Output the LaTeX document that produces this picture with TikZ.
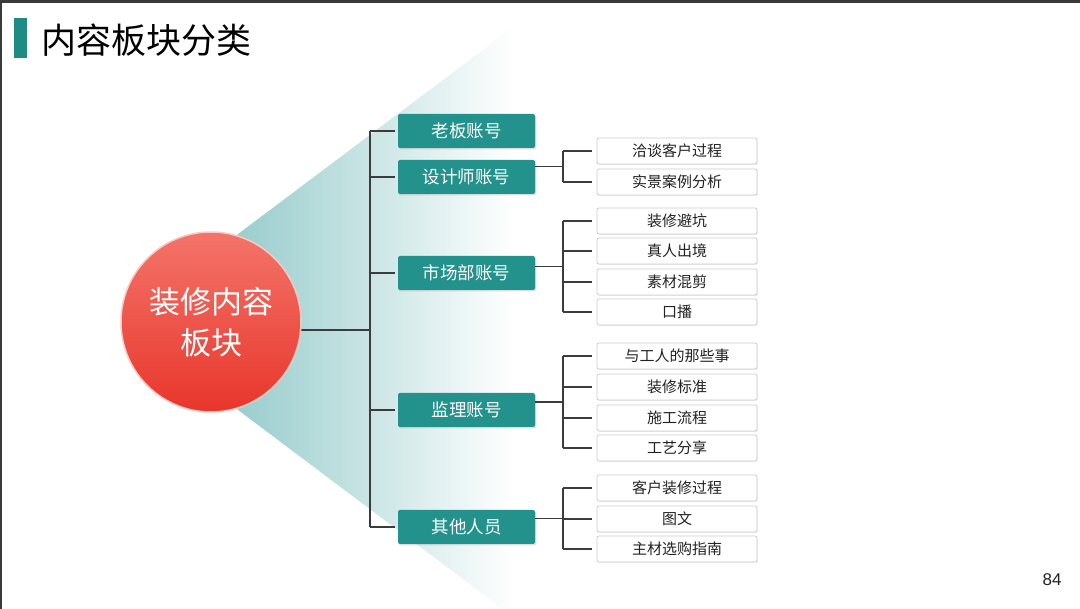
\documentclass[tikz,border=0pt]{standalone}
\usepackage{fontspec}
\setmainfont{Liberation Sans}
\newfontfamily\cjk{Noto Sans CJK SC}
\usetikzlibrary{shadows,calc}
\definecolor{tealbox}{HTML}{23928C}
\definecolor{titleteal}{HTML}{1E8C85}
\definecolor{tri}{HTML}{7CBEBE}
\definecolor{linecol}{HTML}{3C3C3C}
\definecolor{redtop}{HTML}{F4746A}
\definecolor{redbot}{HTML}{E8362B}
\definecolor{ring}{HTML}{F7CBC3}
\definecolor{framecol}{HTML}{3A3A3A}
\definecolor{boxline}{HTML}{CCCCCC}
\definecolor{txt}{HTML}{222222}
\pgfdeclarehorizontalshading{trishade}{100bp}{color(0bp)=(tri); color(25bp)=(tri); color(40bp)=(tri!70!white); color(66bp)=(white); color(100bp)=(white)}
\begin{document}
\begin{tikzpicture}[x=1pt,y=-1pt,
  lvlone/.style={fill=tealbox, text=white, minimum width=137pt, minimum height=34pt,
    rounded corners=2pt, inner sep=0pt, font=\cjk\fontsize{17.5}{20}\selectfont,
    drop shadow={opacity=0.25, shadow xshift=1pt, shadow yshift=-1.5pt}},
  lvltwo/.style={draw=boxline, fill=white, text=txt, minimum width=160pt, minimum height=26pt,
    rounded corners=2pt, inner sep=0pt, line width=0.8pt, font=\cjk\fontsize{15}{18}\selectfont,
    drop shadow={opacity=0.12, shadow xshift=0.8pt, shadow yshift=-1pt}},
  conn/.style={draw=linecol, line width=1.3pt}
]
\useasboundingbox (0,0) rectangle (1080,609);
\fill[white] (0,0) rectangle (1080,609);
\begin{scope}
  \clip (0,0) rectangle (1080,609);
  \shade[shading=trishade] (121,322) -- (600,-38) -- (600,682) -- cycle;
\end{scope}
% frame
\draw[framecol, line width=3pt] (0,1.5) -- (1080,1.5);
\draw[framecol, line width=2pt] (1,0) -- (1,609);
% title
\node[fill=titleteal, minimum width=13pt, minimum height=40pt, inner sep=0pt] (bar) at (20.5,38) {};
\node[anchor=west, inner sep=0pt, text=black, font=\cjk\fontsize{35}{40}\selectfont] (title) at (41,40) {内容板块分类};
% level one
\node[lvlone] (boss) at (466.5,131) {老板账号};
\node[lvlone] (designer) at (466.5,177) {设计师账号};
\node[lvlone] (market) at (466.5,273) {市场部账号};
\node[lvlone] (super) at (466.5,410) {监理账号};
\node[lvlone] (other) at (466.5,527) {其他人员};
% level two
\node[lvltwo] (d1) at (677,151) {洽谈客户过程};
\node[lvltwo] (d2) at (677,182) {实景案例分析};
\node[lvltwo] (m1) at (677,221) {装修避坑};
\node[lvltwo] (m2) at (677,251) {真人出境};
\node[lvltwo] (m3) at (677,282) {素材混剪};
\node[lvltwo] (m4) at (677,312) {口播};
\node[lvltwo] (s1) at (677,356) {与工人的那些事};
\node[lvltwo] (s2) at (677,387) {装修标准};
\node[lvltwo] (s3) at (677,418) {施工流程};
\node[lvltwo] (s4) at (677,448) {工艺分享};
\node[lvltwo] (o1) at (677,488) {客户装修过程};
\node[lvltwo] (o2) at (677,519) {图文};
\node[lvltwo] (o3) at (677,549) {主材选购指南};
% trunk
\coordinate (j1) at (370,330);
\coordinate (j2) at (563,0);
\draw[conn] (211,330) -- (j1);
\draw[conn] (j1 |- boss.west) -- (j1 |- other.west);
\foreach \n in {boss,designer,market,super,other}
  \draw[conn] (j1 |- \n.west) -- ([xshift=-3pt]\n.west);
% level two connectors
\foreach \p/\a/\b/\list in {designer/d1/d2/{d1,d2}, market/m1/m4/{m1,m2,m3,m4}, super/s1/s4/{s1,s2,s3,s4}, other/o1/o3/{o1,o2,o3}}{
  \coordinate (mid) at ($(\a.west)!0.5!(\b.west)$);
  \draw[conn] (\p.east |- mid) -- (j2 |- mid);
  \draw[conn] (j2 |- \a.west) -- (j2 |- \b.west);
  \foreach \c in \list
    \draw[conn] (j2 |- \c.west) -- ([xshift=-5pt]\c.west);
}
% core circle
\node[circle, minimum size=180pt, inner sep=0pt, top color=redtop, bottom color=redbot,
  draw=ring, line width=1.5pt, align=center, text=white,
  font=\cjk\fontsize{31}{41}\selectfont] (core) at (211,322) {装修内容\\板块};
% page number
\node[text=txt, font=\fontsize{17}{20}\selectfont] (pg) at (1052,580) {84};
\end{tikzpicture}
\end{document}
